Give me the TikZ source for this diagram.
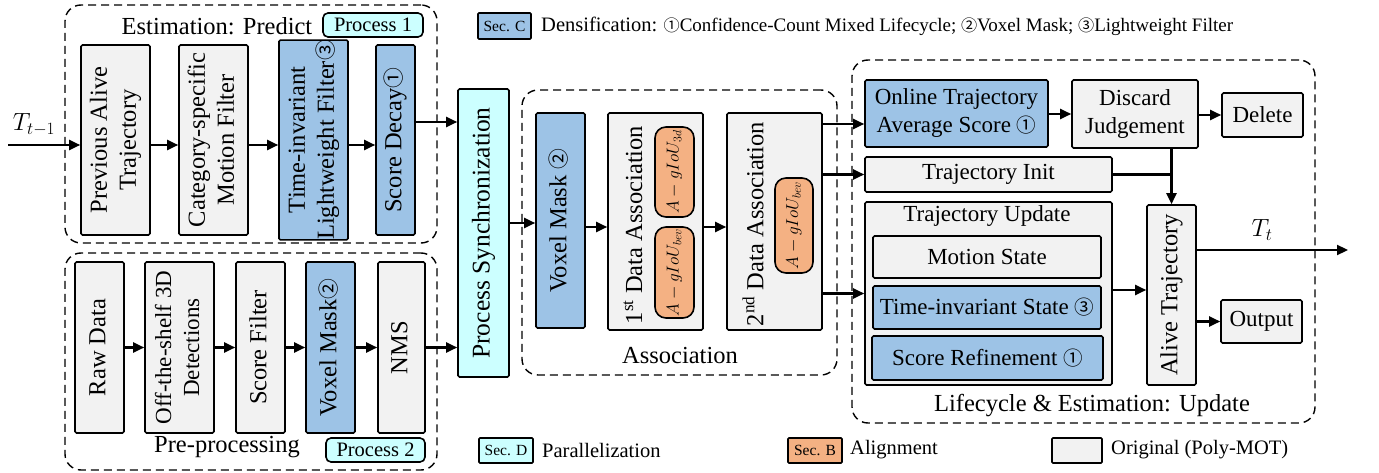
\documentclass[tikz,border=0pt]{standalone}
\usepackage{fontspec}
\setmainfont{Liberation Serif}
\newfontfamily\symf{Noto Sans CJK SC}
\usepackage{graphicx}
\usetikzlibrary{arrows.meta,calc}
\definecolor{bgray}{HTML}{F2F2F2}
\definecolor{bblue}{HTML}{9DC3E6}
\definecolor{bcyan}{HTML}{CCFFFF}
\definecolor{borange}{HTML}{F4B183}
\newcommand{\cn}[1]{{\symf\scalebox{0.85}{#1}}}
\newcommand{\rt}[1]{\rotatebox{90}{\begin{tabular}{@{}c@{}}#1\end{tabular}}}
\newcommand{\fA}{\fontsize{23}{28}\selectfont}
\newcommand{\fR}{\fontsize{24.5}{29}\selectfont}
\newcommand{\fL}{\fontsize{20.5}{24}\selectfont}
\newcommand{\fS}{\fontsize{15.5}{17}\selectfont}
\newcommand{\fM}{\fontsize{18.5}{20}\selectfont}
\newcommand{\bx}[7]{\node[#6, minimum width={(#4-#2)*1pt}, minimum height={(#5-#3)*1pt}] (#1) at ({(#2+#4)/2},{(#3+#5)/2}) {#7};}
\tikzset{
  base/.style={draw=black, line width=1.6pt, rounded corners=1.5pt, inner sep=0pt, align=center},
  graybox/.style={base, fill=bgray, font=\fA},
  bluebox/.style={base, fill=bblue, font=\fA},
  cyanbox/.style={base, fill=bcyan, font=\fR},
  rgray/.style={graybox, font=\fR},
  rblue/.style={bluebox, font=\fR},
  pill/.style={base, fill=borange, rounded corners=11pt, font=\fM},
  procbox/.style={base, fill=bcyan, rounded corners=5pt, font=\fL},
  legbox/.style={base, rounded corners=1pt, font=\fS},
  grp/.style={draw=black, line width=1.4pt, dash pattern=on 8pt off 5pt, rounded corners=16pt, inner sep=0pt},
  lbl/.style={inner sep=0pt, font=\fR},
  arr/.style={line width=2.2pt, -{Triangle[length=11pt,width=10pt]}},
  ln/.style={line width=2.2pt}
}
\begin{document}
\begin{tikzpicture}[x=1pt,y=-1pt]
\useasboundingbox (0,0) rectangle (1379,473);
% ---------- groups
\bx{gpred}{65}{5}{437}{243}{grp}{}
\bx{gpre}{65}{253}{437}{470}{grp}{}
\bx{gassoc}{522}{90}{837}{375}{grp}{}
\bx{glife}{852}{60}{1315}{423}{grp}{}
% ---------- predict
\node[lbl] (tpred) at (217,26) {Estimation: Predict};
\bx{p1}{323}{13}{423}{37}{procbox}{Process 1}
\bx{pat}{81}{45}{150}{235}{rgray}{\rt{Previous Alive\\Trajectory}}
\bx{cmf}{179}{45}{248}{235}{rgray}{\rt{Category-specific\\Motion Filter}}
\bx{tlf}{279}{45}{348}{235}{rblue}{\rt{Time-invariant\\Lightweight Filter\cn{③}}}
\bx{sd}{376}{45}{415}{235}{rblue}{\rt{Score Decay\cn{①}}}
\coordinate (tin) at (8,145);
\coordinate (r1) at (0,145);
\node[lbl] (tlab) at (34,125) {$T_{t-1}$};
\draw[arr] (tin) -- (pat.west |- r1);
\draw[arr] (pat.east |- r1) -- (cmf.west |- r1);
\draw[arr] (cmf.east |- r1) -- (tlf.west |- r1);
\draw[arr] (tlf.east |- r1) -- (sd.west |- r1);
% ---------- pre-processing
\node[lbl] (tpre) at (227,447) {Pre-processing};
\bx{p2}{326}{438}{425}{462}{procbox}{Process 2}
\bx{raw}{75}{262}{124}{433}{rgray}{\rt{Raw Data}}
\bx{ots}{145}{262}{214}{433}{graybox}{\rt{Off-the-shelf 3D\\Detections}}
\bx{sf}{236}{262}{285}{433}{rgray}{\rt{Score Filter}}
\bx{vma}{306}{262}{355}{433}{rblue}{\rt{Voxel Mask\cn{②}}}
\bx{nms}{378}{262}{425}{433}{rgray}{\rt{NMS}}
\draw[arr] (raw) -- (ots);
\draw[arr] (ots) -- (sf);
\draw[arr] (sf) -- (vma);
\draw[arr] (vma) -- (nms);
% ---------- sync
\bx{ps}{458}{89}{509}{377}{cyanbox, font=\fontsize{25.5}{30}\selectfont}{\rt{Process Synchronization}}
\coordinate (r2) at (0,122);
\draw[arr] (sd.east |- r2) -- (ps.west |- r2);
\draw[arr] (nms.east) -- (ps.west |- nms.east);
% ---------- association
\bx{vmb}{536}{113}{585}{328}{rblue}{\rt{Voxel Mask \cn{②}}}
\bx{ad1}{608}{113}{703}{330}{graybox}{}
\bx{ad2}{727}{113}{822}{330}{graybox}{}
\node[lbl] (tad1) at (633,225) {\rotatebox{90}{1\textsuperscript{st} Data Association}};
\node[lbl] (tad2) at (753,224) {\rotatebox{90}{2\textsuperscript{nd} Data Association}};
\bx{pl1}{655}{127}{694}{217}{pill}{\rotatebox{90}{$A-gIoU_{3d}$}}
\bx{pl2}{655}{227}{694}{318}{pill}{\rotatebox{90}{$A-gIoU_{bev}$}}
\bx{pl3}{775}{178}{813}{273}{pill}{\rotatebox{90}{$A-gIoU_{bev}$}}
\node[lbl] (tassoc) at (680,356) {Association};
\coordinate (r3) at (0,223);
\coordinate (r4) at (0,227);
\draw[arr] (ps.east |- r3) -- (vmb.west |- r3);
\draw[arr] (vmb.east |- r4) -- (ad1.west |- r4);
\draw[arr] (ad1.east |- r4) -- (ad2.west |- r4);
% ---------- lifecycle
\bx{online}{865}{80}{1048}{147}{bluebox}{Online Trajectory\\Average Score \cn{①}}
\bx{disc}{1072}{80}{1198}{148}{graybox}{Discard\\Judgement}
\bx{del}{1222}{93}{1303}{137}{graybox}{Delete}
\bx{init}{865}{157}{1112}{192}{graybox}{Trajectory Init}
\bx{upd}{865}{202}{1112}{385}{graybox}{}
\node[lbl, font=\fA] (tupd) at (987,216) {Trajectory Update};
\bx{ms}{873}{236}{1101}{278}{graybox}{Motion State}
\bx{tis}{873}{286}{1101}{329}{bluebox}{Time-invariant State \cn{③}}
\bx{sr}{872}{336}{1103}{380}{bluebox}{Score Refinement \cn{①}}
\bx{alive}{1147}{205}{1196}{385}{rgray}{\rt{Alive Trajectory}}
\bx{out}{1221}{300}{1302}{343}{graybox}{Output}
\node[lbl] (tlife) at (1092,406) {Lifecycle \& Estimation: Update};
\coordinate (r5) at (0,124);
\draw[arr] (ad2.east |- r5) -- (online.west |- r5);
\draw[arr] (ad2.east |- init.west) -- (init.west);
\draw[arr] (ad2.east |- upd.west) -- (upd.west);
\draw[arr] (online.east |- disc.west) -- (disc.west);
\draw[arr] (disc.east |- del.west) -- (del.west);
\draw[ln] (init.east) -- (init.east -| alive.north);
\draw[arr] (disc.south -| alive.north) -- (alive.north);
\coordinate (r6) at (0,290);
\draw[arr] (upd.east |- r6) -- (alive.west |- r6);
\coordinate (tout) at (1348,250);
\draw[arr] (alive.east |- tout) -- (tout);
\node[lbl] (ttl) at (1262,230) {$T_t$};
\draw[arr] (alive.east |- out.west) -- (out.west);
% ---------- legend
\bx{secc}{478}{13}{531}{39}{legbox, fill=bblue}{Sec. C}
\node[anchor=west, inner sep=0pt, font=\fontsize{19}{22}\selectfont] (tden) at (541,26) {{\fontsize{20.5}{22}\selectfont Densification:} \cn{①}Confidence-Count Mixed Lifecycle; \cn{②}Voxel Mask; \cn{③}Lightweight Filter};
\bx{secd}{479}{438}{533}{463}{legbox, fill=bcyan}{Sec. D}
\node[anchor=west, inner sep=0pt, font=\fL] (tpar) at (542,450) {Parallelization};
\bx{secb}{788}{438}{842}{463}{legbox, fill=borange}{Sec. B}
\node[anchor=west, inner sep=0pt, font=\fL] (tali) at (850,450) {Alignment};
\bx{orig}{1052}{438}{1102}{463}{legbox, fill=bgray}{}
\node[anchor=west, inner sep=0pt, font=\fL] (torig) at (1111,450) {Original (Poly-MOT)};
\end{tikzpicture}
\end{document}
